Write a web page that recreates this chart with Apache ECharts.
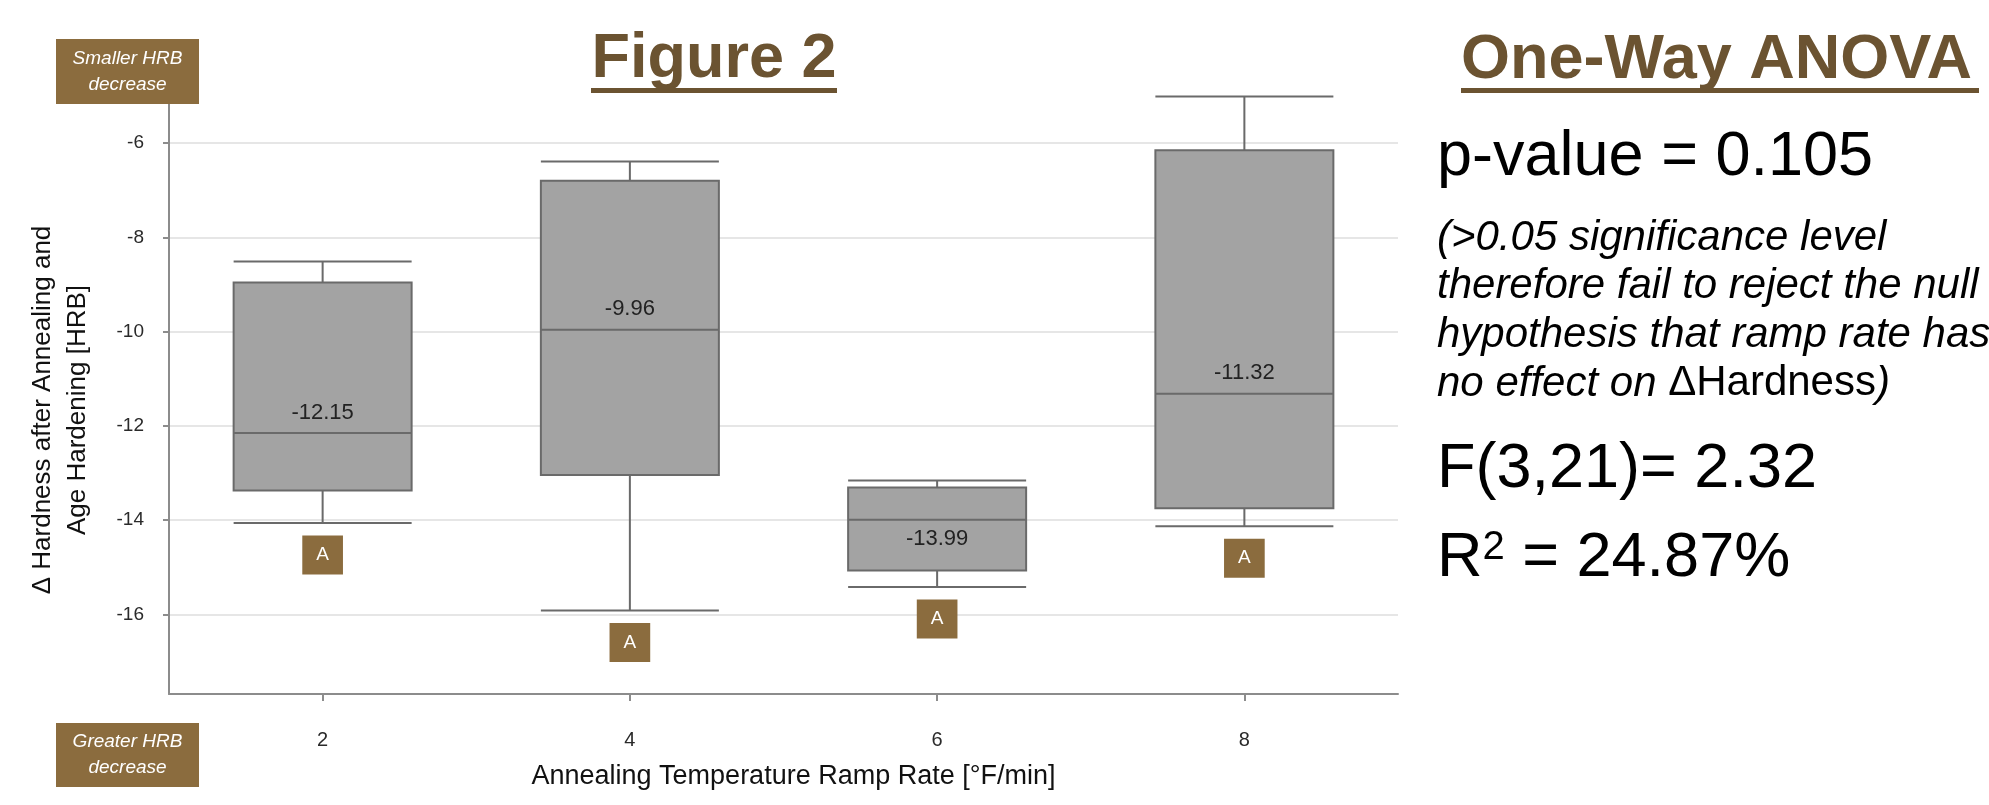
<!DOCTYPE html>
<html>
<head>
<meta charset="utf-8">
<script src="https://cdn.jsdelivr.net/npm/echarts@6/dist/echarts.min.js"></script>
<style>
  html, body { margin: 0; padding: 0; background: #fff; }
  #chart { width: 1989px; height: 805px; }
</style>
</head>
<body>
<div id="chart"></div>
<script>
// ramp rates (categories) and box statistics
var rates = ['2', '4', '6', '8'];
var lowWhisker = [-14.06, -15.92, -15.42, -14.13];
var q1 = [-13.37, -13.04, -15.07, -13.75];
var medians = [-12.15, -9.96, -13.99, -11.32];
var q3 = [-8.96, -6.80, -13.31, -6.15];
var highWhisker = [-8.51, -6.39, -13.16, -5.01];
var groupLetters = ['A', 'A', 'A', 'A'];

// y axis
var yTicks = [-16, -14, -12, -10, -8, -6];
var yMin = -17.69;
var yMax = -3.96;

var brown = '#8B6C3E';
var titleBrown = '#6B5331';
var baseFont = '"Liberation Sans", Arial, sans-serif';
var narrowFont = '"Liberation Sans Narrow", "Liberation Sans", Arial, sans-serif';

function initChart() {
    var myChart = echarts.init(document.getElementById('chart'));

    var boxData = rates.map(function (r, i) {
        return [lowWhisker[i], q1[i], medians[i], q3[i], highWhisker[i]];
    });
    // median label goes under the line when the upper half of the box is too short
    var medianPts = rates.map(function (r, i) {
        var pt = { value: [r, medians[i]] };
        if (q3[i] - medians[i] < 1) {
            pt.label = { position: 'bottom', distance: 8 };
        }
        return pt;
    });
    var letterPts = rates.map(function (r, i) {
        return [r, lowWhisker[i], groupLetters[i]];
    });

    var option = {
        backgroundColor: '#fff',
        animation: false,
        grid: {
            left: 169,
            right: 591,
            top: 47,
            bottom: 111,
            containLabel: false
        },
        xAxis: {
            type: 'category',
            data: rates,
            boundaryGap: true,
            axisLine: { lineStyle: { color: '#8c8c8c', width: 2 } },
            axisTick: { show: true, alignWithLabel: true, length: 7, lineStyle: { color: '#8c8c8c', width: 2 } },
            axisLabel: { fontSize: 20, margin: 36, color: '#2a2a2a', fontFamily: narrowFont },
            splitLine: { show: false },
            name: 'Annealing Temperature Ramp Rate [°F/min]',
            nameLocation: 'middle',
            nameGap: 69,
            nameTextStyle: { fontSize: 27, color: '#111', fontFamily: baseFont, padding: [0, 0, 0, 20] }
        },
        yAxis: {
            type: 'value',
            min: yMin,
            max: yMax,
            axisLine: { show: true, lineStyle: { color: '#8c8c8c', width: 2 } },
            axisTick: { show: true, length: 6, customValues: yTicks, lineStyle: { color: '#8c8c8c', width: 2 } },
            axisLabel: { customValues: yTicks, fontSize: 19, margin: 25, color: '#2a2a2a', fontFamily: narrowFont },
            splitLine: { show: true, lineStyle: { color: '#e6e6e6', width: 2 } }
        },
        series: [
            {
                name: 'dHRB',
                type: 'boxplot',
                data: boxData,
                boxWidth: [178, 178],
                itemStyle: { color: '#a3a3a3', borderColor: '#6a6a6a', borderWidth: 2 },
                emphasis: { disabled: true }
            },
            {
                // median value labels
                type: 'scatter',
                data: medianPts,
                symbolSize: 1,
                itemStyle: { color: 'transparent', opacity: 1 },
                z: 5,
                label: {
                    show: true,
                    position: 'top',
                    distance: 9,
                    fontSize: 22,
                    color: '#222',
                    fontFamily: baseFont,
                    formatter: function (p) { return p.value[1].toFixed(2); }
                }
            },
            {
                // grouping letters
                type: 'scatter',
                data: letterPts,
                symbolSize: 1,
                itemStyle: { color: 'transparent', opacity: 1 },
                z: 5,
                label: {
                    show: true,
                    position: 'bottom',
                    distance: 12,
                    fontSize: 19,
                    lineHeight: 19,
                    color: '#fff',
                    fontFamily: baseFont,
                    backgroundColor: brown,
                    padding: [10, 14],
                    formatter: function (p) { return p.value[2]; }
                }
            }
        ],
        graphic: [
            // Figure 2 title
            { type: 'text', x: 714, y: 60, z: 100,
              style: { text: 'Figure 2', font: 'bold 63px ' + baseFont, fill: titleBrown,
                       align: 'center', verticalAlign: 'middle', textAlign: 'center', textVerticalAlign: 'middle' } },
            { type: 'rect', z: 100, shape: { x: 591, y: 88, width: 246, height: 5 }, style: { fill: titleBrown } },
            // ANOVA block
            { type: 'text', x: 1461, y: 61, z: 100,
              style: { text: 'One-Way ANOVA', font: 'bold 63px ' + baseFont, fill: titleBrown,
                       align: 'left', verticalAlign: 'middle', textAlign: 'left', textVerticalAlign: 'middle' } },
            { type: 'rect', z: 100, shape: { x: 1461, y: 88, width: 518, height: 5 }, style: { fill: titleBrown } },
            { type: 'text', x: 1437, y: 158, z: 100,
              style: { text: 'p-value = 0.105', font: '63px ' + baseFont, fill: '#000',
                       align: 'left', verticalAlign: 'middle', textAlign: 'left', textVerticalAlign: 'middle' } },
            { type: 'text', x: 1437, y: 311, z: 100,
              style: {
                  text: '{i|(>0.05 significance level}\n{i|therefore fail to reject the null}\n{i|hypothesis that ramp rate has}\n{i|no effect on }{n|ΔHardness}{i|)}',
                  align: 'left', verticalAlign: 'middle', textAlign: 'left', textVerticalAlign: 'middle',
                  rich: {
                      i: { fontSize: 42, fontStyle: 'italic', fontFamily: baseFont, fill: '#000', color: '#000', lineHeight: 48.6 },
                      n: { fontSize: 42, fontFamily: baseFont, fill: '#000', color: '#000', lineHeight: 48.6 }
                  }
              } },
            { type: 'text', x: 1437, y: 470, z: 100,
              style: { text: 'F(3,21)= 2.32', font: '63px ' + baseFont, fill: '#000',
                       align: 'left', verticalAlign: 'middle', textAlign: 'left', textVerticalAlign: 'middle' } },
            { type: 'text', x: 1437, y: 559, z: 100,
              style: {
                  text: '{r|R}{s|2}{r| = 24.87%}',
                  align: 'left', verticalAlign: 'middle', textAlign: 'left', textVerticalAlign: 'middle',
                  rich: {
                      r: { fontSize: 63, fontFamily: baseFont, fill: '#000', color: '#000', lineHeight: 63 },
                      s: { fontSize: 40, fontFamily: baseFont, fill: '#000', color: '#000', lineHeight: 40, verticalAlign: 'top' }
                  }
              } },
            // y axis title
            { type: 'text', x: 60, y: 410, rotation: Math.PI / 2, z: 100,
              style: { text: 'Δ Hardness after Annealing and\nAge Hardening [HRB]', font: '26px ' + baseFont,
                       fill: '#111', lineHeight: 35,
                       align: 'center', verticalAlign: 'middle', textAlign: 'center', textVerticalAlign: 'middle' } },
            // direction tags
            { type: 'rect', z: 100, shape: { x: 56, y: 39, width: 143, height: 65 }, style: { fill: brown } },
            { type: 'text', x: 127.5, y: 71.5, z: 101,
              style: { text: 'Smaller HRB\ndecrease', font: 'italic 19px ' + narrowFont, fill: '#fff', lineHeight: 26,
                       align: 'center', verticalAlign: 'middle', textAlign: 'center', textVerticalAlign: 'middle' } },
            { type: 'rect', z: 100, shape: { x: 56, y: 723, width: 143, height: 64 }, style: { fill: brown } },
            { type: 'text', x: 127.5, y: 755, z: 101,
              style: { text: 'Greater HRB\ndecrease', font: 'italic 19px ' + narrowFont, fill: '#fff', lineHeight: 26,
                       align: 'center', verticalAlign: 'middle', textAlign: 'center', textVerticalAlign: 'middle' } }
        ]
    };

    myChart.setOption(option);
}

initChart();
</script>
</body>
</html>
